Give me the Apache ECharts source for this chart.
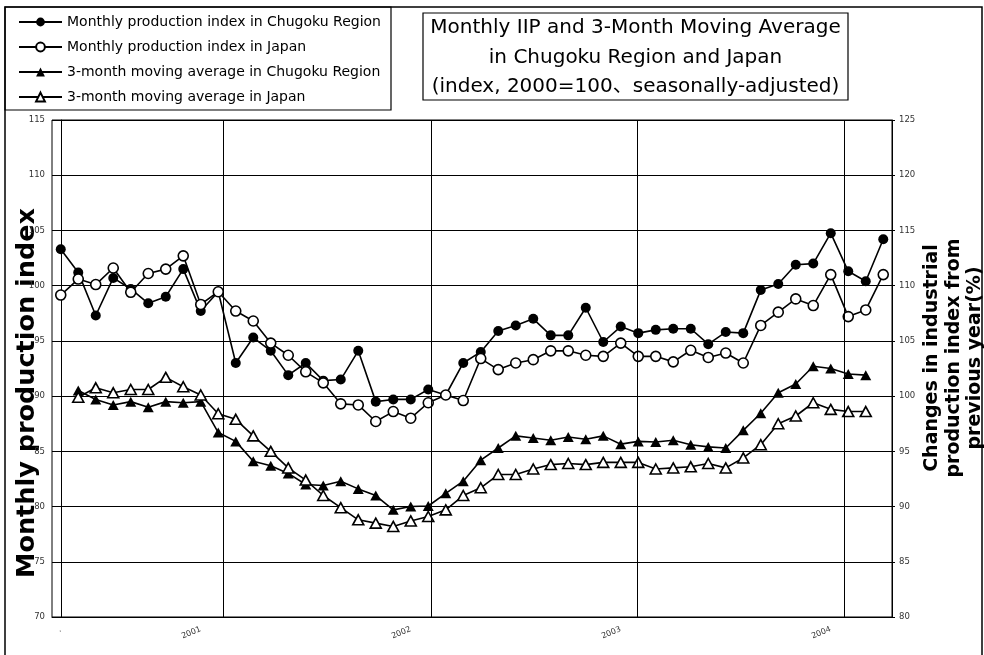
<!DOCTYPE html>
<html><head><meta charset="utf-8">
<script src="https://cdn.jsdelivr.net/npm/echarts@6/dist/echarts.min.js"></script>
<style>html,body{margin:0;padding:0;background:#fff}#c{width:984px;height:655px}</style>
</head><body><div id="c"></div>
<script>
// Categories: months May 2000 .. Apr 2004
const months = [
  '2000-05','2000-06','2000-07','2000-08','2000-09','2000-10','2000-11','2000-12',
  '2001-01','2001-02','2001-03','2001-04','2001-05','2001-06','2001-07','2001-08','2001-09','2001-10','2001-11','2001-12',
  '2002-01','2002-02','2002-03','2002-04','2002-05','2002-06','2002-07','2002-08','2002-09','2002-10','2002-11','2002-12',
  '2003-01','2003-02','2003-03','2003-04','2003-05','2003-06','2003-07','2003-08','2003-09','2003-10','2003-11','2003-12',
  '2004-01','2004-02','2004-03','2004-04'
];
const tickLabelMonths = ['2000-05','2001-01','2002-01','2003-01','2004-01'];
const tickLabelTexts  = ['.','2001','2002','2003','2004'];
// positions (in month-index units) of the vertical year divider lines
const yearDividerPos = [9.31, 21.19, 32.93, 44.79];

const seriesNames = [
  'Monthly production index in Chugoku Region',
  'Monthly production index in Japan',
  '3-month moving average in Chugoku Region',
  '3-month moving average in Japan'
];

// Left axis (index)
const chugokuMonthly = [103.3,101.2,97.3,100.7,99.7,98.4,99.0,101.5,97.7,99.45,93.0,95.3,94.1,91.9,93.0,91.4,
  91.5,94.1,89.5,89.7,89.7,90.6,90.1,93.0,94.0,95.9,96.4,97.0,95.5,95.5,98.0,94.9,
  96.3,95.7,96.0,96.1,96.1,94.7,95.8,95.7,99.6,100.15,101.9,102.0,104.75,101.3,100.4,104.2];
const japanMonthly = [99.15,100.6,100.1,101.6,99.4,101.1,101.5,102.7,98.3,99.45,97.7,96.8,94.8,93.7,92.2,91.2,
  89.3,89.2,87.7,88.6,88.0,89.4,90.1,89.6,93.4,92.4,93.0,93.3,94.1,94.1,93.7,93.6,
  94.8,93.6,93.6,93.1,94.15,93.5,93.9,93.0,96.4,97.6,98.8,98.2,101.0,97.2,97.8,101.0];
// Right axis (3-month centred moving averages)
const chugokuMA = [null,100.5,99.7,99.2,99.5,99.0,99.5,99.4,99.5,96.7,95.9,94.1,93.7,93.0,92.0,91.9,
  92.3,91.6,91.0,89.7,90.0,90.05,91.2,92.3,94.2,95.3,96.4,96.2,96.0,96.3,96.1,96.4,
  95.65,95.9,95.85,96.0,95.6,95.4,95.3,96.9,98.45,100.3,101.1,102.7,102.5,102.0,101.9,null];
const japanMA = [null,99.9,100.75,100.3,100.6,100.6,101.7,100.85,100.1,98.4,97.9,96.4,95.0,93.5,92.4,91.0,
  89.9,88.8,88.5,88.2,88.7,89.1,89.7,91.0,91.7,92.9,92.9,93.4,93.8,93.9,93.8,94.0,
  94.0,94.0,93.4,93.5,93.6,93.9,93.5,94.4,95.6,97.5,98.2,99.4,98.8,98.6,98.6,null];

const FONT = 'DejaVu Sans';
const chart = echarts.init(document.getElementById('c'), null, {renderer: 'canvas'});

const lineBase = {type: 'line', animation: false, connectNulls: false,
  lineStyle: {color: '#000', width: 1.6}, emphasis: {disabled: true}};

chart.setOption({
  animation: false,
  textStyle: {fontFamily: FONT},
  grid: {left: 52, right: 92, top: 120, bottom: 38, containLabel: false, outerBoundsMode: 'none',
    show: true, borderColor: '#000', borderWidth: 1},
  legend: {
    data: seriesNames, orient: 'vertical', left: 13, top: 10, padding: 5,
    itemWidth: 43, itemHeight: 11, itemGap: 11,
    textStyle: {fontSize: 14, color: '#000', fontFamily: FONT},
    selectedMode: false
  },
  xAxis: [{
    type: 'category', data: months, boundaryGap: true,
    axisLine: {show: true, lineStyle: {color: '#000', width: 1}},
    axisTick: {show: false},
    splitLine: {show: false},
    axisLabel: {
      interval: (i, v) => tickLabelMonths.indexOf(v) >= 0,
      formatter: v => { const k = tickLabelMonths.indexOf(v); return k >= 0 ? tickLabelTexts[k] : ''; },
      rotate: 22, margin: 12, fontSize: 8, color: '#333', fontFamily: FONT
    }
  }, {
    type: 'value', min: -0.5, max: 47.5, show: false
  }],
  yAxis: [{
    type: 'value', min: 70, max: 115, interval: 5, position: 'left',
    axisLine: {show: true, lineStyle: {color: '#000', width: 1}},
    axisTick: {show: true, length: 3, lineStyle: {color: '#000'}},
    axisLabel: {fontSize: 8.5, color: '#333', margin: 7, fontFamily: FONT},
    splitLine: {show: true, lineStyle: {color: '#000', width: 1}}
  }, {
    type: 'value', min: 80, max: 125, interval: 5, position: 'right',
    axisLine: {show: true, lineStyle: {color: '#000', width: 1}},
    axisTick: {show: true, length: 3, lineStyle: {color: '#000'}},
    axisLabel: {fontSize: 8.5, color: '#333', margin: 7, fontFamily: FONT},
    splitLine: {show: false}
  }],
  series: [
    Object.assign({}, lineBase, {name: seriesNames[0], data: chugokuMonthly, yAxisIndex: 0,
      symbol: 'circle', symbolSize: 10, itemStyle: {color: '#000'}}),
    Object.assign({}, lineBase, {name: seriesNames[1], data: japanMonthly, yAxisIndex: 0,
      symbol: 'circle', symbolSize: 10, itemStyle: {color: '#fff', borderColor: '#000', borderWidth: 1.6}}),
    Object.assign({}, lineBase, {name: seriesNames[2], data: chugokuMA, yAxisIndex: 1,
      symbol: 'triangle', symbolSize: [11, 10], itemStyle: {color: '#000'}}),
    Object.assign({}, lineBase, {name: seriesNames[3], data: japanMA, yAxisIndex: 1,
      symbol: 'triangle', symbolSize: [11, 10], itemStyle: {color: '#fff', borderColor: '#000', borderWidth: 1.6}}),
    {type: 'line', name: 'dividers', xAxisIndex: 1, yAxisIndex: 0, data: [], animation: false,
      markLine: {silent: true, animation: false, symbol: ['none', 'none'], label: {show: false},
        lineStyle: {color: '#000', width: 1, type: 'solid'},
        data: yearDividerPos.map(p => ({xAxis: p}))}}
  ],
  graphic: [
    {type: 'rect', shape: {x: 5, y: 7, width: 977, height: 660}, style: {fill: 'none', stroke: '#000', lineWidth: 1.5}, silent: true},
    {type: 'rect', shape: {x: 5, y: 7, width: 386, height: 103}, style: {fill: 'none', stroke: '#000', lineWidth: 1.2}, silent: true},
    {type: 'rect', shape: {x: 423, y: 13, width: 425, height: 87}, style: {fill: '#fff', stroke: '#000', lineWidth: 1.2}, silent: true},
    {type: 'text', x: 635.5, y: 57.5, silent: true, style: {
      text: 'Monthly IIP and 3-Month Moving Average\nin Chugoku Region and Japan\n(index, 2000=100、seasonally-adjusted)',
      fontSize: 20, fontFamily: FONT + ", 'Noto Sans CJK JP'", fill: '#000', lineHeight: 29.5,
      align: 'center', verticalAlign: 'middle', textAlign: 'center', textVerticalAlign: 'middle'}},
    {type: 'text', x: 27, y: 393, rotation: Math.PI / 2, silent: true, style: {
      text: 'Monthly production index', fontSize: 25.5, fontWeight: 'bold', fontFamily: FONT, fill: '#000',
      align: 'center', verticalAlign: 'middle', textAlign: 'center', textVerticalAlign: 'middle'}},
    {type: 'text', x: 954, y: 358, rotation: Math.PI / 2, silent: true, style: {
      text: 'Changes in industrial\nproduction index from\nprevious year(%)', fontSize: 19, fontWeight: 'bold',
      fontFamily: FONT, fill: '#000', lineHeight: 21.5,
      align: 'center', verticalAlign: 'middle', textAlign: 'center', textVerticalAlign: 'middle'}}
  ]
});
</script></body></html>
